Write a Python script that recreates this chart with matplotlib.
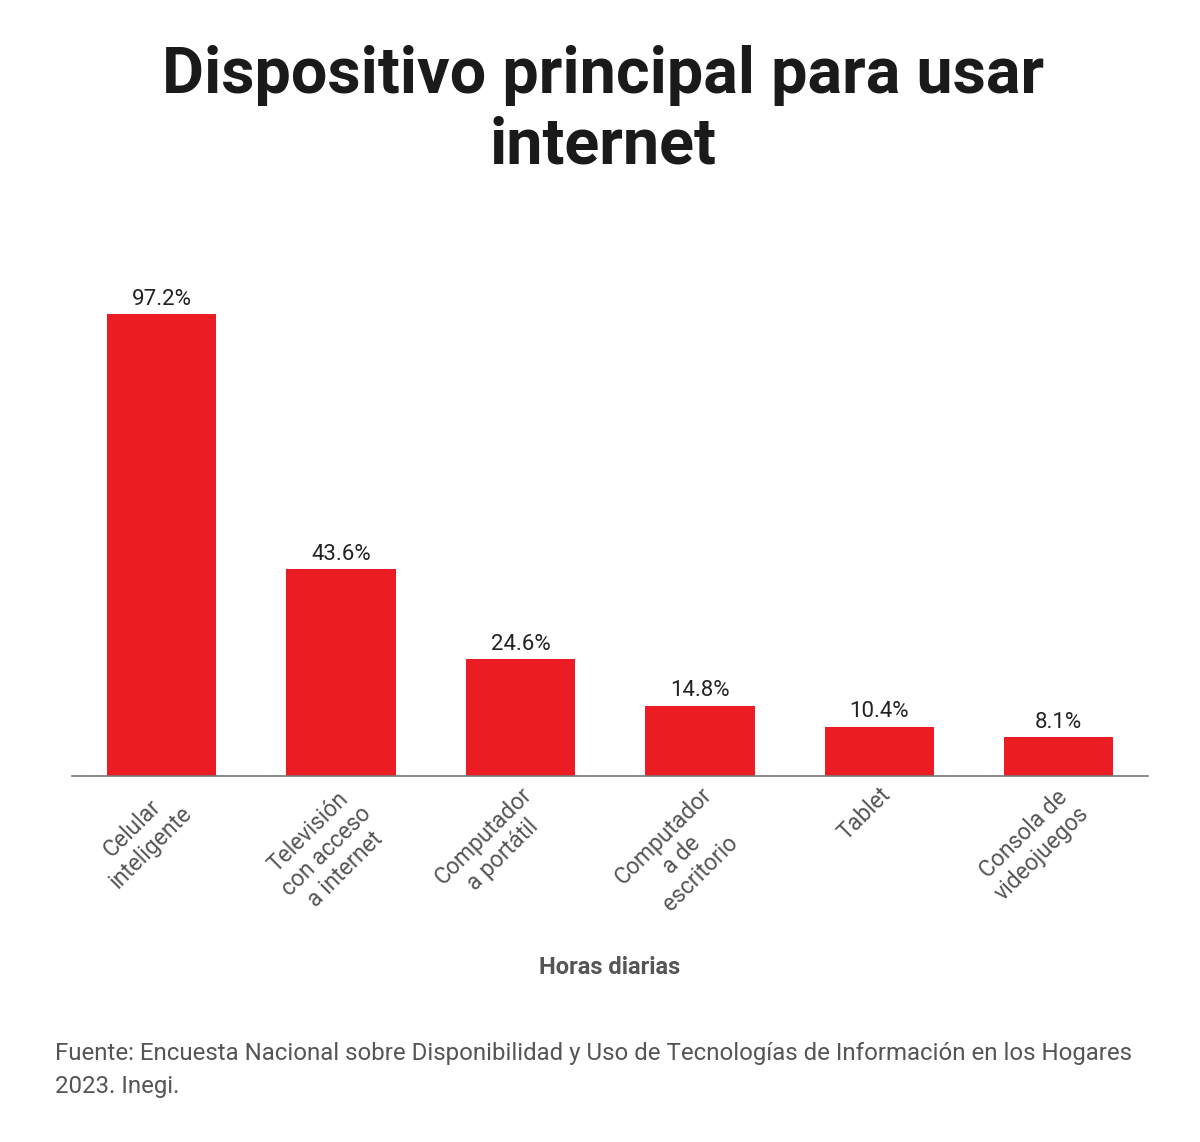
import matplotlib

matplotlib.use("Agg")
import matplotlib.pyplot as plt  # noqa: E402

plt.rcParams["font.family"] = ["Roboto", "DejaVu Sans"]

# data
categories = [
    "Celular\ninteligente",
    "Televisión\ncon acceso\na internet",
    "Computador\na portátil",
    "Computador\na de\nescritorio",
    "Tablet",
    "Consola de\nvideojuegos",
]
values = [97.2, 43.6, 24.6, 14.8, 10.4, 8.1]
labels = ["97.2%", "43.6%", "24.6%", "14.8%", "10.4%", "8.1%"]

RED = "#ec1c24"
GRAY = "#555555"

fig = plt.figure(figsize=(12, 11.42), dpi=100)
ax = fig.add_axes([0.0600, 0.3205, 0.897, 0.437])

xs = range(len(values))
bars = ax.bar(xs, values, width=0.61, color=RED, zorder=2)
for b, lab in zip(bars, labels):
    ax.annotate(lab, (b.get_x() + b.get_width() / 2, b.get_height()),
                xytext=(0, 3), textcoords="offset points",
                ha="center", va="bottom", fontsize=16, color="#222222")

ax.set_xlim(-0.5, len(values) - 0.5)
ax.set_ylim(0, 105)
ax.set_yticks([])
ax.set_xticks(list(xs))
ax.set_xticklabels(categories, rotation=45, ha="right", rotation_mode="anchor",
                   multialignment="center", fontsize=16.5, color=GRAY)
ax.tick_params(axis="x", length=0, pad=5)
for side in ("top", "right", "left"):
    ax.spines[side].set_visible(False)
ax.spines["bottom"].set_color("#777777")
ax.spines["bottom"].set_linewidth(1.2)

fig.text(0.5025, 1 - 111 / 1142, "Dispositivo principal para usar\ninternet", ha="center",
         va="center", fontsize=46.5, fontweight="bold", color="#1a1a1a",
         linespacing=1.2)
fig.text(0.508, 1 - 967 / 1142, "Horas diarias", ha="center", va="center",
         fontsize=17, fontweight="bold", color=GRAY)
fig.text(0.046, 1 - 1070 / 1142,
         "Fuente: Encuesta Nacional sobre Disponibilidad y Uso de Tecnologías de Información en los Hogares\n2023. Inegi.",
         ha="left", va="center", fontsize=17.3, color=GRAY, linespacing=1.55)

fig.savefig("out.png", dpi=100, facecolor="white")
